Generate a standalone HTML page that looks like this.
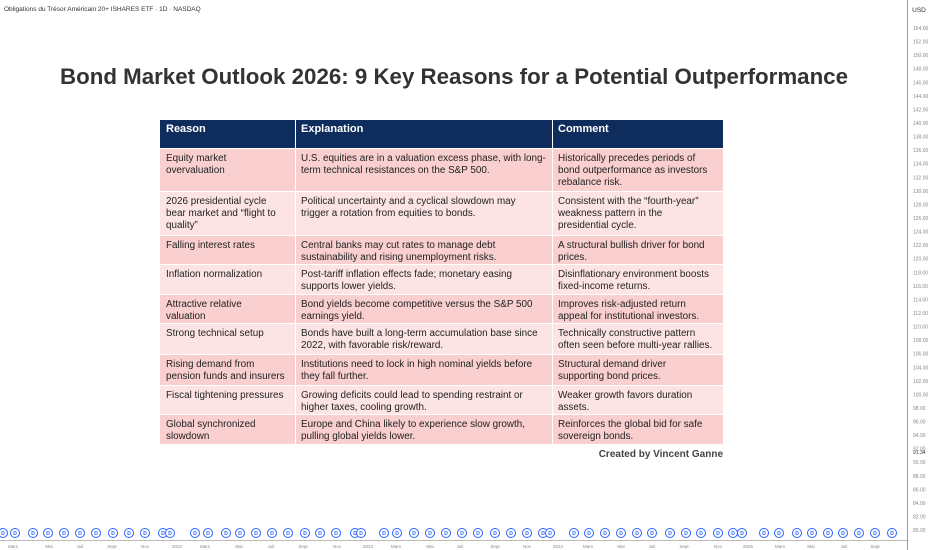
<!DOCTYPE html>
<html><head><meta charset="utf-8"><style>
html,body{margin:0;padding:0;background:#fff;width:932px;height:550px;overflow:hidden}
svg{display:block;font-family:"Liberation Sans",sans-serif}
</style></head><body>
<svg id="c" width="932" height="550">
<text x="4" y="11" font-size="6.5" fill="#333">Obligations du Trésor Américain 20+ ISHARES ETF · 1D · NASDAQ</text>
<line x1="907.5" y1="0" x2="907.5" y2="550" stroke="#999"/>
<line x1="0" y1="540.5" x2="907" y2="540.5" stroke="#bbb"/>
<text x="919" y="12" font-size="6.5" fill="#333" text-anchor="middle">USD</text>
<g id="yt"></g><g id="xt"></g><g id="ev"></g>
<text x="454" y="84" font-size="22.5" font-weight="bold" fill="#333" text-anchor="middle" textLength="788" lengthAdjust="spacingAndGlyphs">Bond Market Outlook 2026: 9 Key Reasons for a Potential Outperformance</text>
<g id="tbl"></g>
<text x="723" y="457" font-size="10" font-weight="bold" fill="#444" text-anchor="end">Created by Vincent Ganne</text>
</svg>
<script>
const NS="http://www.w3.org/2000/svg";
const yTicks=[154,152,150,148,146,144,142,140,138,136,134,132,130,128,126,124,122,120,118,116,114,112,110,108,106,104,102,100,98,96,94,92,90,88,86,84,82,80];
const xLabels=["Mars","Mai","Juil","Sept","Nov","2022","Mars","Mai","Juil","Sept","Nov","2023","Mars","Mai","Juil","Sept","Nov","2024","Mars","Mai","Juil","Sept","Nov","2025","Mars","Mai","Juil","Sept"];
const xLabelPos=[13,49,80,112,145,177,205,239,271,303,337,368,396,430,460,495,527,558,588,621,652,684,718,748,780,811,844,875];
const dividendX=[3,15,33,48,64,80,96,113,129,145,163,170,195,208,226,240,256,272,288,305,320,336,355,361,384,397,414,430,446,462,478,495,511,527,543,550,574,589,605,621,637,652,670,686,701,718,733,742,764,779,797,812,828,843,859,875,892];
function y(v){return 28+(154-v)*6.785;}
function el(t,a,p,txt){const e=document.createElementNS(NS,t);for(const k in a)e.setAttribute(k,a[k]);if(txt!==undefined)e.textContent=txt;p.appendChild(e);return e;}
const yt=document.getElementById('yt');
yTicks.forEach(v=>{const t=el('text',{x:913,y:y(v)+2,'font-size':5,fill:'#888'},yt,v.toFixed(2));

});
const pl=el('text',{x:913,y:y(91.34)+1,'font-size':5,fill:'#333'},yt,'91.34');


const xt=document.getElementById('xt');
xLabels.forEach((l,i)=>{const t=el('text',{x:xLabelPos[i],y:548,'font-size':4.5,fill:'#888','text-anchor':'middle'},xt,l);

});
const ev=document.getElementById('ev');
dividendX.forEach(x=>{const g=el('g',{},ev);


el('circle',{cx:x,cy:533,r:4.5,fill:'#fff',stroke:'#2962ff','stroke-width':1},g);
el('text',{x:x,y:535,'font-size':5,fill:'#2962ff','text-anchor':'middle','font-weight':'bold'},g,'D');});
const cols=[160,295,552,723];
const rows=[
[["Equity market","overvaluation"],["U.S. equities are in a valuation excess phase, with long-","term technical resistances on the S&P 500."],["Historically precedes periods of","bond outperformance as investors","rebalance risk."]],
[["2026 presidential cycle","bear market and “flight to","quality”"],["Political uncertainty and a cyclical slowdown may","trigger a rotation from equities to bonds."],["Consistent with the “fourth-year”","weakness pattern in the","presidential cycle."]],
[["Falling interest rates"],["Central banks may cut rates to manage debt","sustainability and rising unemployment risks."],["A structural bullish driver for bond","prices."]],
[["Inflation normalization"],["Post-tariff inflation effects fade; monetary easing","supports lower yields."],["Disinflationary environment boosts","fixed-income returns."]],
[["Attractive relative","valuation"],["Bond yields become competitive versus the S&P 500","earnings yield."],["Improves risk-adjusted return","appeal for institutional investors."]],
[["Strong technical setup"],["Bonds have built a long-term accumulation base since","2022, with favorable risk/reward."],["Technically constructive pattern","often seen before multi-year rallies."]],
[["Rising demand from","pension funds and insurers"],["Institutions need to lock in high nominal yields before","they fall further."],["Structural demand driver","supporting bond prices."]],
[["Fiscal tightening pressures"],["Growing deficits could lead to spending restraint or","higher taxes, cooling growth."],["Weaker growth favors duration","assets."]],
[["Global synchronized","slowdown"],["Europe and China likely to experience slow growth,","pulling global yields lower."],["Reinforces the global bid for safe","sovereign bonds."]]
];
const rowTops=[148,191,235,264,294,323,354,385,414,444];
const tbl=document.getElementById('tbl');
const hdr=el('rect',{x:160,y:120,width:563,height:28,fill:'#0e2d5c'},tbl);


["Reason","Explanation","Comment"].forEach((h,i)=>{const t=el('text',{x:cols[i]+6,y:132,'font-size':11,'font-weight':'bold',fill:'#fff'},tbl,h);

});
rows.forEach((r,i)=>{const top=rowTops[i],h=rowTops[i+1]-top;
const bg=el('rect',{x:160,y:top,width:563,height:h,fill:i%2?'#fde4e4':'#f9cfcf'},tbl);


el('line',{x1:160,y1:top+0.5,x2:723,y2:top+0.5,stroke:'#fff','stroke-width':1},tbl);
r.forEach((lines,c)=>{const maxW=cols[c+1]-cols[c]-9;
lines.forEach((ln,k)=>{const t=el('text',{x:cols[c]+6,y:top+13+k*12,'font-size':9.9,fill:'#222'},tbl,ln);


if(t.getComputedTextLength()>maxW){t.setAttribute('textLength',maxW);t.setAttribute('lengthAdjust','spacingAndGlyphs');}});});});
[295,552].forEach(x=>el('line',{x1:x+0.5,y1:120,x2:x+0.5,y2:444,stroke:'#fff','stroke-width':1},tbl));
</script>
</body></html>
